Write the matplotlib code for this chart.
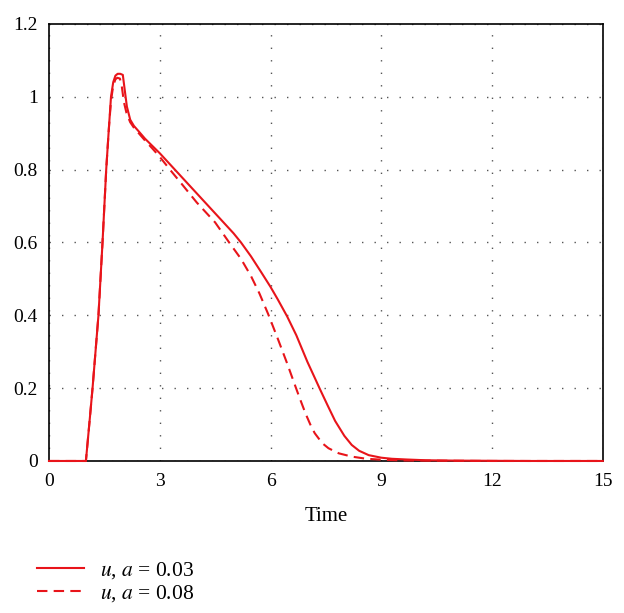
import matplotlib
matplotlib.use("Agg")
import matplotlib.pyplot as plt

plt.rcParams["font.family"] = ["Liberation Serif", "DejaVu Serif"]
plt.rcParams["mathtext.fontset"] = "stix"

# values
t_a03 = [0, 1.0, 1.1, 1.18, 1.26, 1.34, 1.45, 1.55, 1.62, 1.68, 1.74, 1.8, 1.86,
         1.93, 2.0, 2.05, 2.11, 2.2, 2.3, 2.43, 2.6, 2.8, 3.0, 3.3, 3.6, 4.0, 4.5,
         5.0, 5.2, 5.47, 5.75, 6.0, 6.2, 6.45, 6.7, 7.0, 7.2, 7.34, 7.55, 7.75,
         8.0, 8.2, 8.4, 8.66, 9.0, 9.29, 9.7, 10.2, 11.0, 12.0, 13.0, 15.0]
u_a03 = [0, 0, 0.11, 0.2, 0.3, 0.4, 0.6, 0.8, 0.91, 1.0, 1.04, 1.058, 1.063,
         1.063, 1.06, 1.02, 0.973, 0.937, 0.92, 0.905, 0.885, 0.865, 0.845, 0.812,
         0.779, 0.735, 0.68, 0.625, 0.60, 0.562, 0.518, 0.478, 0.443, 0.397,
         0.345, 0.272, 0.228, 0.197, 0.152, 0.11, 0.069, 0.044, 0.028, 0.016,
         0.009, 0.006, 0.004, 0.002, 0.001, 0.0005, 0, 0]

t_a08 = [0, 1.0, 1.1, 1.18, 1.26, 1.34, 1.45, 1.55, 1.62, 1.68, 1.74, 1.8, 1.85,
         1.92, 1.97, 2.03, 2.1, 2.2, 2.3, 2.43, 2.6, 2.8, 3.0, 3.3, 3.6, 4.0, 4.5,
         4.88, 5.2, 5.47, 5.7, 5.93, 6.2, 6.45, 6.67, 6.8, 6.95, 7.1, 7.2, 7.4,
         7.57, 7.85, 8.2, 8.6, 9.1, 9.6, 10.2, 11.0, 12.0, 15.0]
u_a08 = [0, 0, 0.11, 0.2, 0.3, 0.4, 0.6, 0.8, 0.91, 0.99, 1.03, 1.048, 1.052,
         1.05, 1.03, 0.985, 0.955, 0.93, 0.915, 0.9, 0.88, 0.858, 0.835, 0.797,
         0.76, 0.71, 0.655, 0.60, 0.555, 0.508, 0.46, 0.405, 0.335, 0.268,
         0.206, 0.17, 0.13, 0.095, 0.076, 0.049, 0.035, 0.021, 0.012, 0.006,
         0.003, 0.0015, 0.001, 0.0005, 0, 0]

labels = [r"$u$, $a$ = 0.03", r"$u$, $a$ = 0.08"]
red = "#e8141a"

fig = plt.figure(figsize=(6.24, 6.13), dpi=100)
ax = fig.add_axes([0.0785, 0.248, 0.8875, 0.713])

ax.plot(t_a03, u_a03, color=red, lw=1.5, label=labels[0], clip_on=False, zorder=3)
ax.plot(t_a08, u_a08, color=red, lw=1.5, ls=(0, (5, 3)), label=labels[1],
        clip_on=False, zorder=3)

ax.set_xlim(0, 15)
ax.set_ylim(0, 1.2)
ax.set_xticks([0, 3, 6, 9, 12, 15])
ax.set_yticks([0, 0.2, 0.4, 0.6, 0.8, 1.0, 1.2])
ax.set_yticklabels(["0", "0.2", "0.4", "0.6", "0.8", "1", "1.2"])
ax.tick_params(length=0, labelsize=14)
ax.tick_params(axis="x", pad=9)
ax.tick_params(axis="y", pad=8)
ax.grid(True, color="#555555", lw=1.0, ls=(0, (1, 8)))
for s in ax.spines.values():
    s.set_linewidth(1.2)
    s.set_color("black")
ax.set_xlabel("Time", fontsize=15, labelpad=12)

fig.legend(loc="upper left", bbox_to_anchor=(0.045, 0.1), frameon=False,
           fontsize=15.5, handlelength=2.2, handletextpad=0.75, labelspacing=0.1,
           borderaxespad=0)

fig.savefig("out.png", dpi=100)
